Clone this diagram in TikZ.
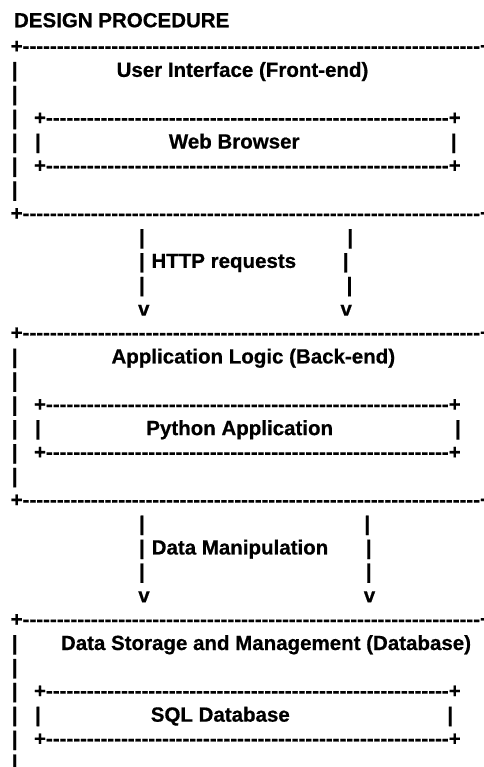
\documentclass[tikz,border=0pt]{standalone}
\usepackage{fontspec}
\setmainfont{Liberation Sans}[BoldFeatures={FakeBold=0.6}]
\ExplSyntaxOn
\cs_new:Npn \dashrun #1 { \prg_replicate:nn {#1} { \hbox{-} } }
\ExplSyntaxOff
\newcommand\artfont{\fontsize{20.5}{24}\selectfont\bfseries}
\tikzset{
  g/.style={inner sep=0pt, outer sep=0pt, anchor=base, font=\artfont, text=black},
  run/.style={g, anchor=base west},
}
\newcommand\outerrun{+\dashrun{67}+}
\newcommand\innerrun{+\dashrun{59}+}
\begin{document}
\begin{tikzpicture}[x=1pt, y=-1pt]
\useasboundingbox (0,0) rectangle (483,767);
\fill[white] (0,0) rectangle (483,767);
% heading
\node[g] (head) at (121.7,27.3) {DESIGN PROCEDURE};
% outer horizontal runs
\foreach \i in {0,7,12,19,24}{
  \node[run] (orun\i) at (10.7,{53+23.88*\i}) {\outerrun};
}
% outer left bars
\foreach \i in {1,...,6,13,14,15,16,17,18,25,26,27,28,29,30}{
  \node[g] (obar\i) at (14.8,{53+23.88*\i}) {|};
}
% inner runs
\foreach \i in {3,5,15,17,27,29}{
  \node[run] (irun\i) at (34.0,{53+23.88*\i}) {\innerrun};
}
% front-end block
\node[g] (ui) at (242.5,{53+23.88*1}) {User Interface (Front-end)};
\node[g] (wbl) at (38,{53+23.88*4}) {|};
\node[g] (wb) at (234.2,{53+23.88*4}) {Web Browser};
\node[g] (wbr) at (453.7,{53+23.88*4}) {|};
% HTTP requests connector
\node[g] (h8l) at (142,{53+23.88*8}) {|};
\node[g] (h8r) at (350.3,{53+23.88*8}) {|};
\node[g] (h9l) at (142,{53+23.88*9}) {|};
\node[g] (http) at (223.8,{53+23.88*9}) {HTTP requests};
\node[g] (h9r) at (345.8,{53+23.88*9}) {|};
\node[g] (h10l) at (142,{53+23.88*10}) {|};
\node[g] (h10r) at (349.5,{53+23.88*10}) {|};
\node[g] (h11l) at (143.8,{53+23.88*11}) {v};
\node[g] (h11r) at (346.2,{53+23.88*11}) {v};
% back-end block
\node[g] (al) at (253.3,{53+23.88*13}) {Application Logic (Back-end)};
\node[g] (pal) at (38,{53+23.88*16}) {|};
\node[g] (pa) at (239.7,{53+23.88*16}) {Python Application};
\node[g] (par) at (458,{53+23.88*16}) {|};
% Data manipulation connector
\node[g] (d20l) at (142,{53+23.88*20}) {|};
\node[g] (d20r) at (367.2,{53+23.88*20}) {|};
\node[g] (d21l) at (142,{53+23.88*21}) {|};
\node[g] (dm) at (240,{53+23.88*21}) {Data Manipulation};
\node[g] (d21r) at (368.7,{53+23.88*21}) {|};
\node[g] (d22l) at (142,{53+23.88*22}) {|};
\node[g] (d22r) at (368.7,{53+23.88*22}) {|};
\node[g] (d23l) at (144,{53+23.88*23}) {v};
\node[g] (d23r) at (369.5,{53+23.88*23}) {v};
% database block
\node[g] (ds) at (266,{53+23.88*25}) {Data Storage and Management (Database)};
\node[g] (sql) at (38,{53+23.88*28}) {|};
\node[g] (sq) at (220.3,{53+23.88*28}) {SQL Database};
\node[g] (sqr) at (450.3,{53+23.88*28}) {|};
\end{tikzpicture}
\end{document}
